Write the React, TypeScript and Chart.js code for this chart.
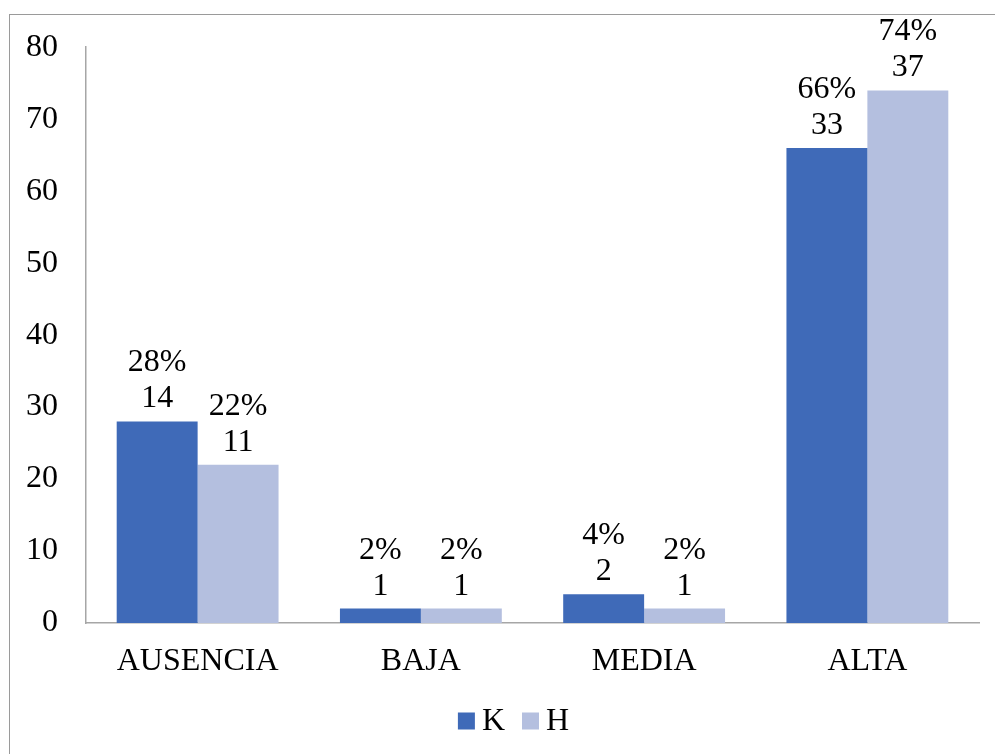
import React, { useEffect, useRef } from "react";
import { Chart, registerables } from "chart.js";

Chart.register(...registerables);

const categories = ["AUSENCIA", "BAJA", "MEDIA", "ALTA"];
const seriesNames = ["K", "H"];
const kPercent = [28, 2, 4, 66];
const hPercent = [22, 2, 2, 74];
const kCount = [14, 1, 2, 33];
const hCount = [11, 1, 1, 37];
const yTicks = [0, 10, 20, 30, 40, 50, 60, 70, 80];

const FONT = "'Liberation Serif', 'Times New Roman', Times, serif";
const counts = [kCount, hCount];

const labelPlugin = {
  id: "twoLineLabels",
  afterDatasetsDraw(chart: any) {
    const ctx = chart.ctx;
    ctx.save();
    ctx.font = `32px ${FONT}`;
    ctx.fillStyle = "#000";
    ctx.textAlign = "center";
    ctx.textBaseline = "alphabetic";
    chart.data.datasets.forEach((ds: any, di: number) => {
      const meta = chart.getDatasetMeta(di);
      meta.data.forEach((bar: any, i: number) => {
        const pct = ds.data[i];
        ctx.fillText(String(counts[di][i]), bar.x, bar.y - 14);
        ctx.fillText(`${pct}%`, bar.x, bar.y - 50);
      });
    });
    ctx.restore();
  },
};

const legendPlugin = {
  id: "customLegend",
  afterDraw(chart: any) {
    const ctx = chart.ctx;
    ctx.save();
    ctx.font = `32px ${FONT}`;
    ctx.textBaseline = "middle";
    ctx.textAlign = "left";
    const box = 17, gapText = 7, gapItem = 17;
    const items = chart.data.datasets.map((ds: any) => ({
      label: ds.label,
      color: ds.backgroundColor,
      w: ctx.measureText(ds.label).width,
    }));
    const total = items.reduce((a: number, it: any, i: number) => a + box + gapText + it.w + (i > 0 ? gapItem : 0), 0);
    let x = chart.width / 2 + 16 - total / 2;
    const cy = 721;
    items.forEach((it: any) => {
      ctx.fillStyle = it.color;
      ctx.fillRect(x, cy - box / 2, box, box);
      x += box + gapText;
      ctx.fillStyle = "#000";
      ctx.fillText(it.label, x, cy + 1);
      x += it.w + gapItem;
    });
    ctx.restore();
  },
};

export default function App() {
  const ref = useRef<HTMLCanvasElement | null>(null);
  useEffect(() => {
    if (!ref.current) return;
    const chart = new Chart(ref.current, {
      type: "bar",
      data: {
        labels: categories,
        datasets: [
          { label: seriesNames[0], data: kPercent, backgroundColor: "#3F6AB8", borderWidth: 0 },
          { label: seriesNames[1], data: hPercent, backgroundColor: "#B4BFDF", borderWidth: 0 },
        ],
      },
      options: {
        responsive: false,
        animation: false,
        layout: { padding: { left: 0, right: 16, top: 45, bottom: 62 } },
        datasets: { bar: { categoryPercentage: 0.725, barPercentage: 1 } },
        plugins: {
          legend: { display: false },
          tooltip: { enabled: false },
        },
        scales: {
          x: {
            grid: { display: false, drawTicks: false },
            border: { display: true, color: "#A6A6A6", width: 1.5 },
            ticks: { color: "#000", font: { family: FONT, size: 32 }, padding: 19, maxRotation: 0 },
            afterFit: (s: any) => { s.height = 69; },
          },
          y: {
            min: 0,
            max: 80,
            afterBuildTicks: (s: any) => { s.ticks = yTicks.map((v) => ({ value: v })); },
            grid: { display: false, drawTicks: false },
            border: { display: true, color: "#A6A6A6", width: 1.5 },
            ticks: { color: "#000", font: { family: FONT, size: 32 }, padding: 28 },
            afterFit: (s: any) => { s.width = 86; },
          },
        },
      },
      plugins: [labelPlugin, legendPlugin],
    });
    return () => chart.destroy();
  }, []);
  return (
    <div style={{ position: "fixed", left: 0, top: 0, width: 995, height: 754, background: "#fff", overflow: "hidden" }}>
      <div style={{ position: "absolute", left: 9, top: 14, width: 1000, height: 800, borderTop: "1px solid #9a9a9a", borderLeft: "1px solid #9a9a9a" }} />
      <canvas ref={ref} width={995} height={754} style={{ position: "absolute", left: 0, top: 0 }} />
    </div>
  );
}
